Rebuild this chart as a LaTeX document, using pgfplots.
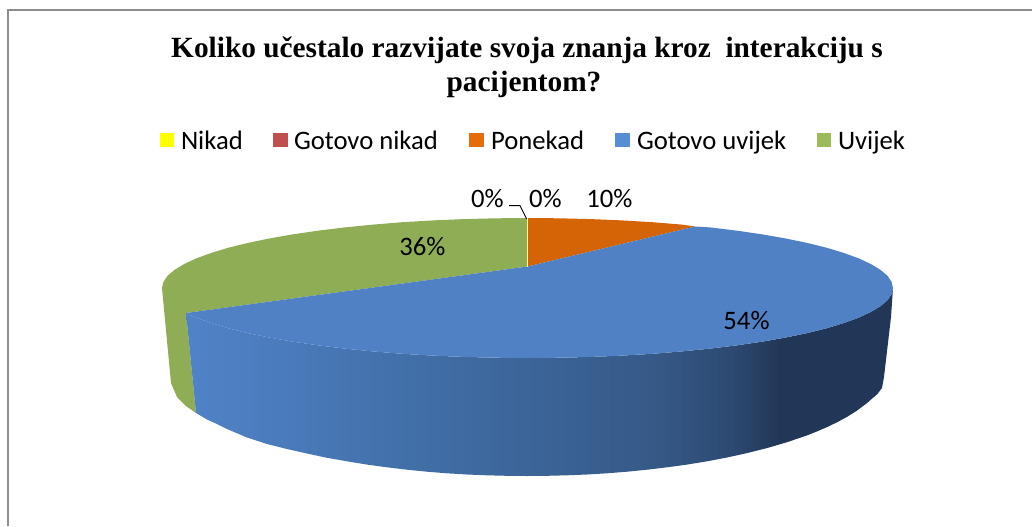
\documentclass[border=0pt]{standalone}
\usepackage{fontspec}
\setmainfont{Carlito}
\newfontfamily\titlefont{Liberation Serif}
\usepackage{pgfplots}
\pgfplotsset{compat=1.18}

\definecolor{frameC}{HTML}{8E8E8E}
\definecolor{topO}{HTML}{D46405}
\definecolor{topB}{HTML}{4F81C4}
\definecolor{topG}{HTML}{8FAD55}
\definecolor{legY}{HTML}{FFFF00}
\definecolor{legR}{HTML}{C0504D}
\definecolor{legO}{HTML}{E46C0A}
\definecolor{legB}{HTML}{558ED5}
\definecolor{legG}{HTML}{9BBB59}
\definecolor{sA}{HTML}{4F82C6}
\definecolor{sB}{HTML}{4C7EC0}
\definecolor{sC}{HTML}{4270AA}
\definecolor{sD}{HTML}{3C6599}
\definecolor{sE}{HTML}{365A88}
\definecolor{sF}{HTML}{2D4A72}
\definecolor{sG}{HTML}{223757}
\definecolor{sH}{HTML}{24385A}

% side of the blue slice; path box runs over 25bp..75bp
\pgfdeclarehorizontalshading{pieside}{100bp}{
  color(0bp)=(sA); color(25.7bp)=(sA); color(29.5bp)=(sB);
  color(40bp)=(sC); color(49bp)=(sD); color(57.8bp)=(sE);
  color(63.5bp)=(sF); color(67bp)=(sG); color(100bp)=(sH)}

\begin{document}
\begin{tikzpicture}
\useasboundingbox (0,0) rectangle (774pt,394.5pt);
\begin{axis}[
    hide axis,
    scale only axis,
    width=774pt, height=394.5pt,
    xmin=0, xmax=1032,
    ymin=0, ymax=526,
    y dir=reverse,
    clip=false,
]

% chart frame
\addplot[frameC, line width=1.5pt] coordinates {(7.5,526) (7.5,9.5) (1032,9.5)};

% green side
\addplot[draw=none, fill=topG] coordinates {
    (162,288) (171,383) (177,397) (186,406) (196,413) (186,313)} --cycle;

% blue side
\addplot[draw=none, shading=pieside] coordinates {
    (186,313) (196.2,317.6) (211,323) (228.1,328.2) (247.5,333) (269.1,337.5)
    (292.5,341.6) (317.9,345.3) (344.8,348.6) (373,351.4) (402.5,353.8)
    (432.9,355.6) (464,356.9) (495.6,357.7) (527.5,358) (559.4,357.7)
    (591,356.9) (622.1,355.6) (652.5,353.8) (682,351.4) (710.2,348.6)
    (737.1,345.3) (762.5,341.6) (785.9,337.5) (807.5,333) (826.9,328.2)
    (844,323) (858.8,317.6) (871,311.9) (880.5,306.1) (887.5,300.2)
    (891.6,294.1) (893,288)
    (891,317) (884,377) (882,388) (877,394.5)
    (872,398.6) (867,403.1) (857,410.6) (847,416.9) (837,422.3) (827,427.1)
    (817,431.4) (807,435.4) (787,442.2) (767,448.1) (747,453.1) (727,457.5)
    (707,461.3) (687,464.6) (667,467.3) (647,469.7) (627,471.7) (607,473.3)
    (587,474.5) (567,475.3) (547,475.8) (527,476)
    (507,475.8) (487,475.3) (467,474.5) (447,473.3) (427,471.7) (407,469.7)
    (387,467.3) (367,464.6) (347,461.3) (327,457.8) (307,453.5) (287,449)
    (267,444) (247,437.5) (227,429) (217,424) (207,419.5) (196,413)} --cycle;

% top: green 36
\addplot[draw=none, fill=topG] coordinates {
    (527.5,266.5) (186,313) (174.5,306.1) (167.5,300.2) (163.4,294.1) (162,288)
    (163.4,281.9) (167.5,275.8) (174.5,269.9) (184,264.1) (196.2,258.4)
    (211,253) (228.1,247.8) (247.5,243) (269.1,238.5) (292.5,234.4)
    (317.9,230.7) (344.8,227.4) (373,224.6) (402.5,222.2) (432.9,220.4)
    (464,219.1) (495.6,218.3) (527.5,218)} --cycle;

% top: orange 10
\addplot[draw=none, fill=topO] coordinates {
    (527.5,266.5) (527.5,218) (559.4,218.3) (591,219.1) (622.1,220.4)
    (652.5,222.2) (682,224.6) (695,226.5)} --cycle;

% top: blue 54
\addplot[draw=none, fill=topB] coordinates {
    (527.5,266.5) (695,226.5) (710.2,227.4) (737.1,230.7) (762.5,234.4)
    (785.9,238.5) (807.5,243) (826.9,247.8) (844,253) (858.8,258.4) (871,264.1)
    (880.5,269.9) (887.5,275.8) (891.6,281.9) (893,288)
    (891.6,294.1) (887.5,300.2) (880.5,306.1) (871,311.9) (858.8,317.6)
    (844,323) (826.9,328.2) (807.5,333) (785.9,337.5) (762.5,341.6)
    (737.1,345.3) (710.2,348.6) (682,351.4) (652.5,353.8) (622.1,355.6)
    (591,356.9) (559.4,357.7) (527.5,358) (495.6,357.7) (464,356.9)
    (432.9,355.6) (402.5,353.8) (373,351.4) (344.8,348.6) (317.9,345.3)
    (292.5,341.6) (269.1,337.5) (247.5,333) (228.1,328.2) (211,323)
    (196.2,317.6) (186,313)} --cycle;

% the two empty slices leave a pale seam
\addplot[color=yellow!45!white, line width=0.5pt] coordinates {(527.5,218) (527.5,266.5)};

% leader line
\addplot[black, line width=0.7pt] coordinates {(509,205.7) (520,205.7) (526.7,219)};

% legend swatches
\addplot[draw=none, fill=legY] coordinates {(160,133) (174,133) (174,147) (160,147)} --cycle;
\addplot[draw=none, fill=legR] coordinates {(273,133) (288,133) (288,147) (273,147)} --cycle;
\addplot[draw=none, fill=legO] coordinates {(469,133) (484,133) (484,147) (469,147)} --cycle;
\addplot[draw=none, fill=legB] coordinates {(615,133) (630,133) (630,147) (615,147)} --cycle;
\addplot[draw=none, fill=legG] coordinates {(817,133) (831,133) (831,147) (817,147)} --cycle;

\begin{scope}[every node/.style={inner sep=0pt, outer sep=0pt, font=\fontsize{20}{22}\selectfont}]
\node[anchor=base west] at (axis cs:181,149) {Nikad};
\node[anchor=base west] at (axis cs:294,149) {Gotovo nikad};
\node[anchor=base west] at (axis cs:491,149) {Ponekad};
\node[anchor=base west] at (axis cs:637,149) {Gotovo uvijek};
\node[anchor=base west] at (axis cs:838,149) {Uvijek};

\node[anchor=base] at (axis cs:487.5,207) {0\%};
\node[anchor=base] at (axis cs:545.5,207) {0\%};
\node[anchor=base] at (axis cs:609.5,207) {10\%};
\node[anchor=base] at (axis cs:422.5,255) {36\%};
\node[anchor=base] at (axis cs:746.5,329) {54\%};

\node[anchor=base, font=\titlefont\bfseries\fontsize{22}{24}\selectfont] at (axis cs:527,57)
    {Koliko učestalo razvijate svoja znanja kroz\ \ interakciju s};
\node[anchor=base, font=\titlefont\bfseries\fontsize{22}{24}\selectfont] at (axis cs:524,91)
    {pacijentom?};
\end{scope}

\end{axis}
\end{tikzpicture}
\end{document}
